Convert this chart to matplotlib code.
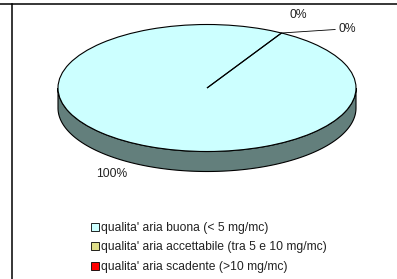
import numpy as np
import matplotlib.pyplot as plt
from matplotlib.lines import Line2D
from matplotlib.patches import Patch

plt.rcParams['font.family'] = ['Liberation Sans', 'DejaVu Sans']

# dati
categorie = ["qualita' aria buona (< 5 mg/mc)",
             "qualita' aria accettabile (tra 5 e 10 mg/mc)",
             "qualita' aria scadente (>10 mg/mc)"]
valori = [100, 0, 0]
colori = ['#ccffff', '#dddd88', '#ff0000']
colore_lato = '#637f7c'

W, H = 397, 279
fig = plt.figure(figsize=(W / 100, H / 100), dpi=100)

# assi a tutta figura: centro torta a (207, 88) px, semiassi 149 x 63.5 px
cx, cy, a, b = 207, 88, 149, 63.5
ax = fig.add_axes([0, 0, 1, 1])
depth = 20 / b

# lato 3D (metà anteriore)
t = np.linspace(np.pi, 2 * np.pi, 200)
xs = np.concatenate([np.cos(t), np.cos(t[::-1])])
ys = np.concatenate([np.sin(t), np.sin(t[::-1]) - depth])
ax.fill(xs, ys, facecolor=colore_lato, edgecolor='black', linewidth=0.8, zorder=1)

start = 60
wedges, _ = ax.pie(valori, colors=colori, startangle=start, counterclock=False,
                   wedgeprops=dict(edgecolor='black', linewidth=0.8))
for w in wedges:
    w.set_zorder(2)

ax.set_aspect('auto')
ax.set_xlim(-cx / a, (W - cx) / a)
ax.set_ylim((cy - H) / b, cy / b)
ax.axis('off')

# etichette percentuali
fs = 8.7
tot = sum(valori)
perc = [f"{round(v / tot * 100)}%" for v in valori]
mid = np.deg2rad(start - 360 * valori[0] / tot / 2)
ax.text(1.28 * np.cos(mid), 1.2 * np.sin(mid) - depth, perc[0],
        ha='center', va='center', fontsize=fs, color='#222222')
edge = np.deg2rad(start)
ex, ey = np.cos(edge), np.sin(edge)
ax.text(ex + 0.11, ey + 0.29, perc[1], ha='center', va='center', fontsize=fs,
        color='#222222')
ax.plot([ex, ex + 0.36], [ey, ey + 0.055], color='black', linewidth=0.6)
ax.text(ex + 0.38, ey + 0.06, perc[2], ha='left', va='center', fontsize=fs,
        color='#222222')

# legenda
handles = [Patch(facecolor=c, edgecolor='black', linewidth=0.6) for c in colori]
leg = fig.legend(handles, categorie, loc='upper left',
                 bbox_to_anchor=(91 / W, 1 - 222 / H), frameon=False,
                 fontsize=fs, handlelength=0.7, handleheight=0.7,
                 handletextpad=0.15, labelspacing=0.62, borderpad=0, borderaxespad=0)
for txt in leg.get_texts():
    txt.set_color('#222222')

# bordi della cella
fig.add_artist(Line2D([0, 1], [1 - 4 / H] * 2, color='black', linewidth=1.1,
                      transform=fig.transFigure))
fig.add_artist(Line2D([12 / W] * 2, [0, 1 - 4 / H], color='black', linewidth=1.1,
                      transform=fig.transFigure))

fig.savefig('out.png', dpi=100)
